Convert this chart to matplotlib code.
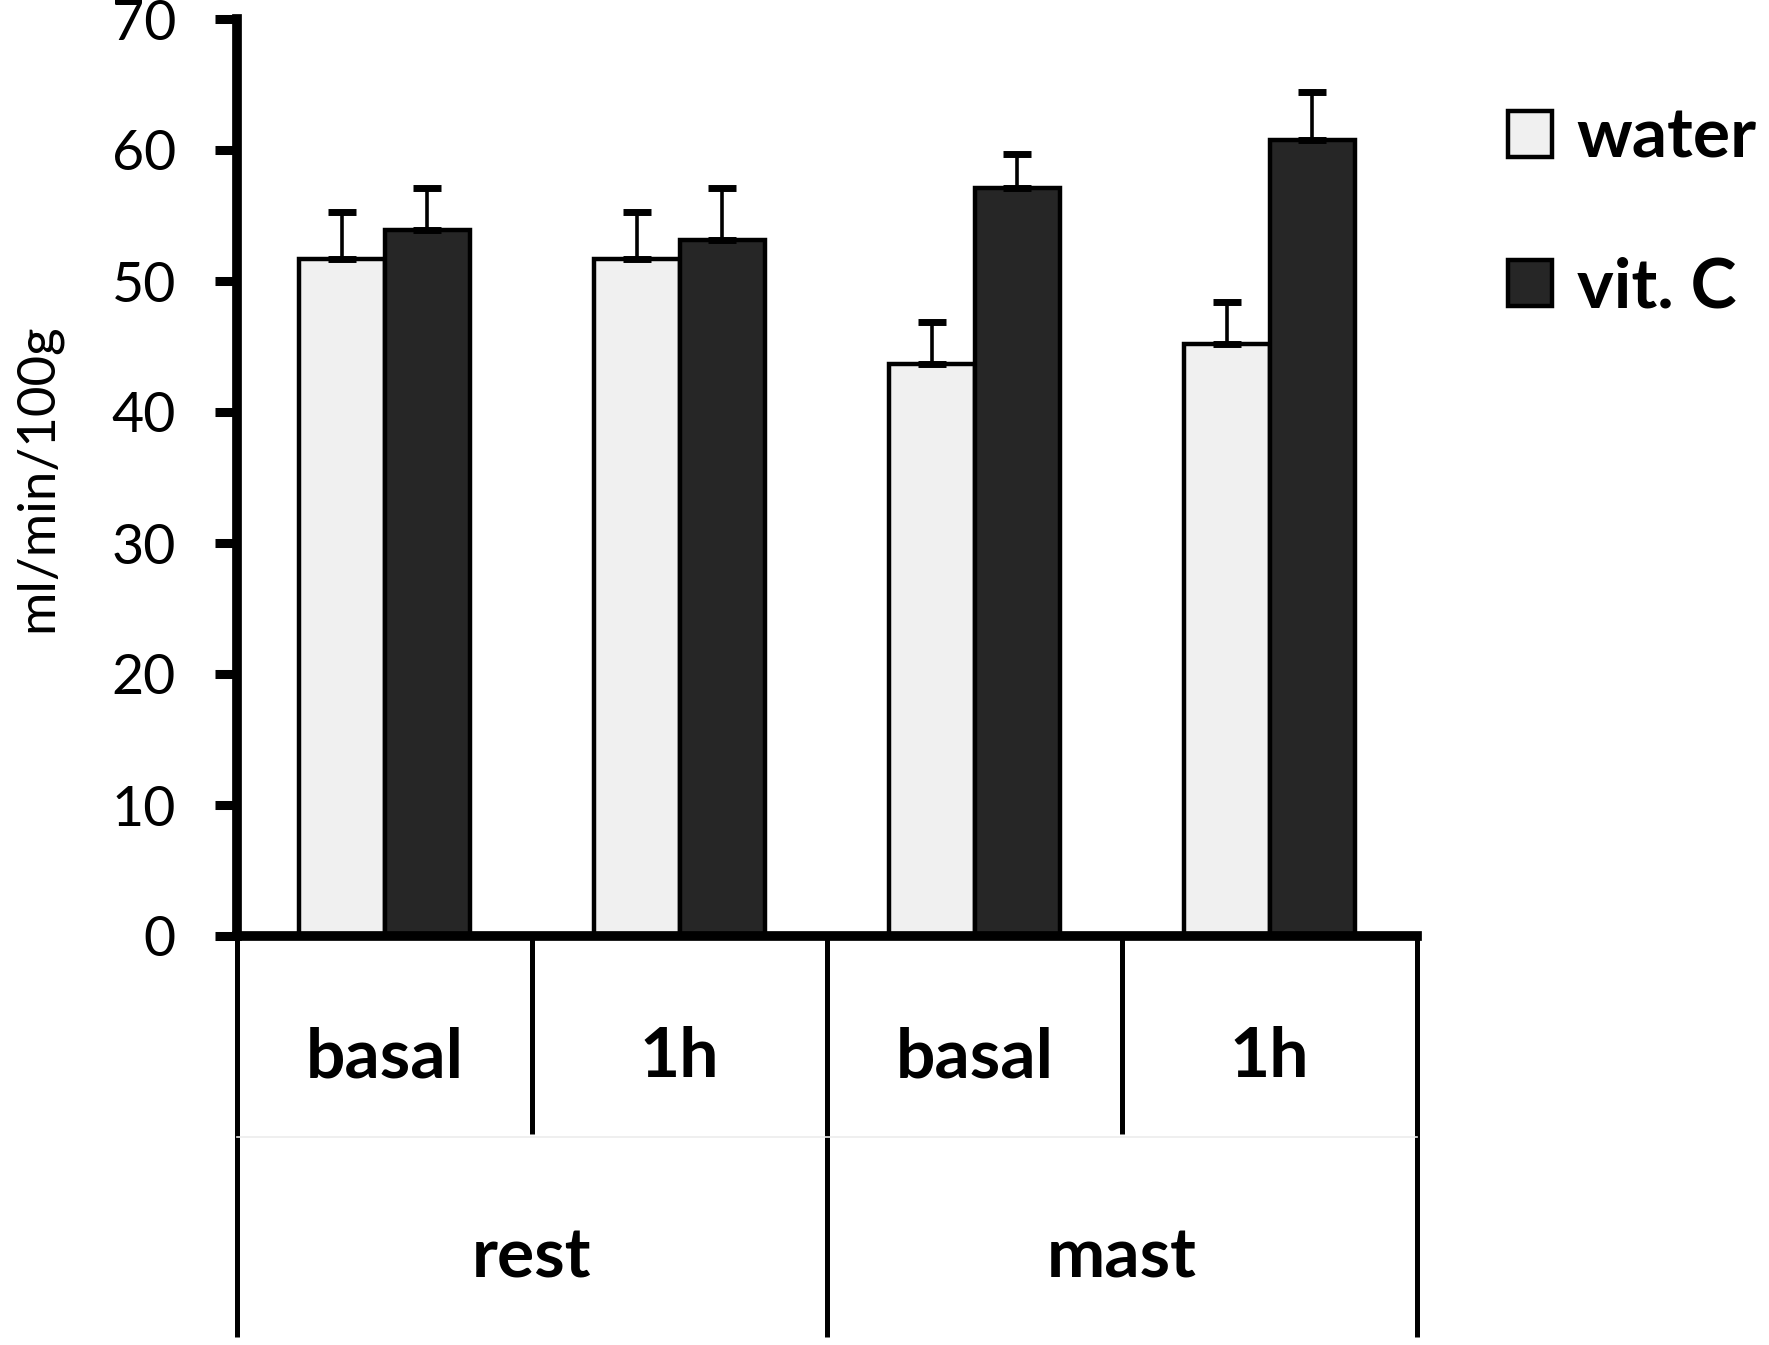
import matplotlib
matplotlib.use("Agg")
import matplotlib.pyplot as plt
from matplotlib.patches import Patch
import numpy as np

plt.rcParams['font.family'] = ['Lato', 'DejaVu Sans']

subgroups = ["basal", "1h", "basal", "1h"]
groups = ["rest", "mast"]
series = ["water", "vit. C"]
water = [51.7, 51.7, 43.7, 45.2]
water_err = [3.6, 3.6, 3.2, 3.2]
vitc = [53.9, 53.1, 57.1, 60.8]
vitc_err = [3.2, 4.0, 2.6, 3.6]
yticks = [0, 10, 20, 30, 40, 50, 60, 70]

W, H = 1769, 1345
fig = plt.figure(figsize=(W / 100, H / 100), dpi=100)
ax = fig.add_axes([237 / W, 1 - 936 / H, (1417 - 237) / W, (936 - 19) / H])

x = np.arange(len(subgroups))
bw = 0.29
fills = ["#f0f0f0", "#262626"]
for vals, errs, off, fc in [(water, water_err, -bw / 2, fills[0]), (vitc, vitc_err, bw / 2, fills[1])]:
    ax.bar(x + off, vals, width=bw, color=fc, edgecolor="black", linewidth=3.2, zorder=2)
    ax.errorbar(x + off, vals, yerr=[np.zeros(len(vals)), errs], fmt="none",
                ecolor="black", elinewidth=2.6, capsize=10, capthick=5, zorder=3)

ax.set_xlim(-0.5, 3.5)
ax.set_ylim(0, 70)
ax.set_yticks(yticks)
ax.set_xticks([])
for s in ["top", "right"]:
    ax.spines[s].set_visible(False)
ax.spines["left"].set_linewidth(7)
ax.spines["bottom"].set_linewidth(7)
ax.spines["left"].set_capstyle("projecting")
ax.tick_params(axis="y", direction="out", length=16, width=6.5, labelsize=40, pad=28)
ax.set_ylabel("ml/min/100g", fontsize=38, labelpad=36)

trans = ax.get_xaxis_transform()
# category separator lines below axis
for xb in [-0.5, 1.5, 3.5]:
    ax.plot([xb, xb], [0, -0.437], color="black", lw=3.6, transform=trans, clip_on=False, solid_capstyle="butt")
for xb in [0.5, 2.5]:
    ax.plot([xb, xb], [0, -0.216], color="black", lw=3.6, transform=trans, clip_on=False, solid_capstyle="butt")
ax.plot([-0.5, 3.5], [-0.219, -0.219], color="#ececec", lw=1.2, transform=trans, clip_on=False)

for xi, lab in zip(x, subgroups):
    ax.text(xi, -0.133, lab, transform=trans, ha="center", va="center",
            fontsize=50, fontweight="bold")
for gi, lab in enumerate(groups):
    ax.text(0.5 + 2 * gi, -0.351, lab, transform=trans, ha="center", va="center",
            fontsize=50, fontweight="bold")

handles = [Patch(facecolor=fills[0], edgecolor="black", linewidth=3.2),
           Patch(facecolor=fills[1], edgecolor="black", linewidth=3.2)]
fig.legend(handles, series, loc="upper left", bbox_to_anchor=(1508 / W, 1 - 107 / H),
           frameon=False, prop={"size": 50, "weight": "bold"},
           handlelength=0.64, handleheight=0.64, handletextpad=0.35,
           labelspacing=1.25, borderpad=0, borderaxespad=0)

fig.savefig("out.png", dpi=100)
